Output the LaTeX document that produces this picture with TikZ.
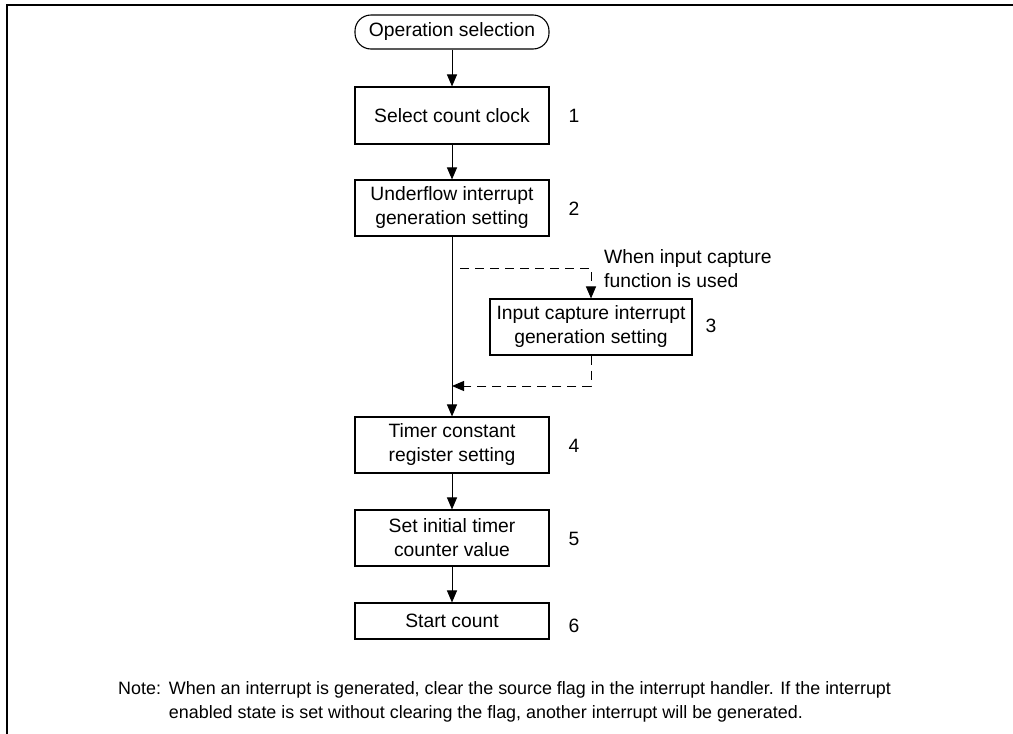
\documentclass[tikz,border=0pt]{standalone}
\usepackage{fontspec}
\setmainfont{Liberation Sans}
\usetikzlibrary{arrows.meta}

\newcommand\flowfont{\fontsize{19.3pt}{24pt}\selectfont}
\newcommand\notefont{\fontsize{17.9pt}{24pt}\selectfont}

\begin{document}
\begin{tikzpicture}[x=1pt,y=-1pt,
  box/.style={draw, line width=1.1pt, minimum width=194pt, minimum height=56pt,
    align=center, inner sep=0pt, font=\flowfont},
  terminal/.style={draw, line width=1.1pt, rounded corners=16pt, minimum width=194pt,
    minimum height=34pt, inner sep=0pt, font=\flowfont},
  num/.style={font=\flowfont, inner sep=0pt},
  plain/.style={font=\flowfont, inner sep=0pt},
  flow/.style={line width=1pt, -{Triangle[length=12pt,width=10pt]}},
  optflow/.style={flow, dash pattern=on 9pt off 6pt}
]
\useasboundingbox (0,0) rectangle (1013,734);

% page frame
\draw[line width=2.3pt] (7,734) -- (7,5) -- (1013,5);

% main sequence
\node[terminal] (start) at (452,32) {Operation selection};
\node[box, minimum height=57pt] (b1) at (452,115.5) {Select count clock};
\node[box] (b2) at (452,208) {Underflow interrupt\\generation setting};
\node[box, minimum width=202pt] (b3) at (591,327) {Input capture interrupt\\generation setting};
\node[box] (b4) at (452,445) {Timer constant\\register setting};
\node[box] (b5) at (452,538) {Set initial timer\\counter value};
\node[box, minimum height=36pt] (b6) at (452,621) {Start count};

% step numbers
\node[num] (n1) at (574,116) {1};
\node[num] (n2) at (574,209) {2};
\node[num] (n3) at (711,326) {3};
\node[num] (n4) at (574,446) {4};
\node[num] (n5) at (574,539) {5};
\node[num] (n6) at (574,626) {6};

% condition for the optional step
\node[plain, anchor=west, align=left] (cond) at (604,269)
  {When input capture\\function is used};

% connectors
\draw[flow] (start) -- (b1);
\draw[flow] (b1) -- (b2);
\draw[flow] (b2) -- (b4);
\draw[flow] (b4) -- (b5);
\draw[flow] (b5) -- (b6);

\coordinate (fork) at (460,268);
\coordinate (join) at (452,386);
\draw[optflow] (fork) -| (b3.north);
\draw[optflow] (b3.south) |- (join);

% note
\node[anchor=north west, inner sep=0pt, font=\notefont] (note) at (118,677)
  {\begin{tabular}{@{}l@{\hspace{8pt}}l@{}}
   Note: & When an interrupt is generated, clear the source flag in the interrupt handler. If the interrupt\\
         & enabled state is set without clearing the flag, another interrupt will be generated.
   \end{tabular}};
\end{tikzpicture}
\end{document}
